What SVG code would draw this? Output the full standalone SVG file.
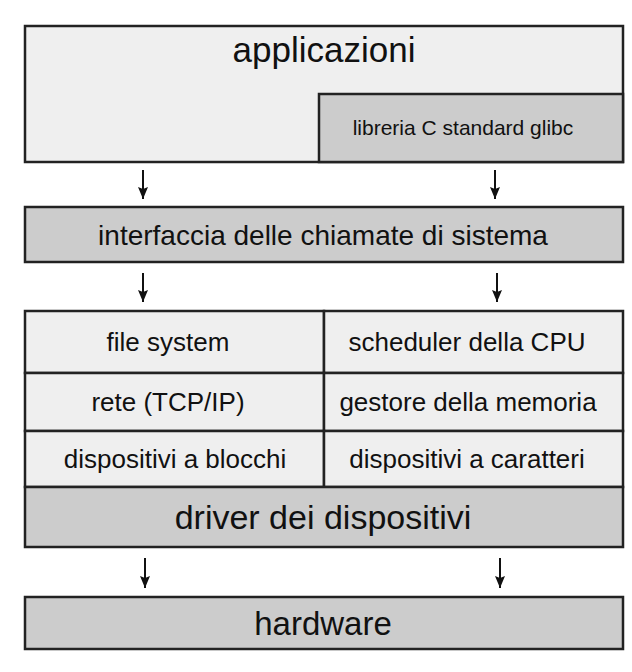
<svg xmlns="http://www.w3.org/2000/svg" width="632" height="672" viewBox="0 0 632 672">
<defs>
<style>
.light{fill:#efefef;stroke:#222;stroke-width:2.5}
.dark{fill:#cccccc;stroke:#222;stroke-width:2.5}
text{font-family:"Liberation Sans",Arial,sans-serif;fill:#111;text-anchor:middle}
.big{font-size:34px}
.app{font-size:35px}
.hw{font-size:33px}
.mid{font-size:28px}
.row{font-size:26px}
.small{font-size:21px}
.arrow{stroke:#111;stroke-width:2;fill:none}
</style>
<marker id="ah" markerWidth="12" markerHeight="10" refX="12" refY="5" orient="auto" markerUnits="userSpaceOnUse" viewBox="0 0 12 10">
<path d="M0,0 L12,5 L0,10 L2,5 Z" fill="#111"/>
</marker>
</defs>
<rect width="632" height="672" fill="#fff"/>
<g id="applicazioni">
<rect class="light" x="25" y="26" width="598" height="136"/>
<text class="app" x="324" y="62">applicazioni</text>
</g>
<g id="glibc">
<rect class="dark" x="319" y="94" width="304" height="68"/>
<text class="small" x="463" y="135">libreria C standard glibc</text>
</g>
<g id="syscall">
<rect class="dark" x="25" y="207" width="598" height="55"/>
<text class="mid" x="323" y="245">interfaccia delle chiamate di sistema</text>
</g>
<g id="kernel">
<rect class="light" x="25" y="311" width="299" height="62"/>
<rect class="light" x="324" y="311" width="299" height="62"/>
<rect class="light" x="25" y="373" width="299" height="58"/>
<rect class="light" x="324" y="373" width="299" height="58"/>
<rect class="light" x="25" y="431" width="299" height="56"/>
<rect class="light" x="324" y="431" width="299" height="56"/>
<text class="row" x="168" y="351">file system</text>
<text class="row" x="467" y="351">scheduler della CPU</text>
<text class="row" x="168" y="411">rete (TCP/IP)</text>
<text class="row" x="468" y="411">gestore della memoria</text>
<text class="row" x="175" y="468">dispositivi a blocchi</text>
<text class="row" x="467" y="468">dispositivi a caratteri</text>
</g>
<g id="driver">
<rect class="dark" x="25" y="487" width="598" height="60"/>
<text class="big" x="323" y="529">driver dei dispositivi</text>
</g>
<g id="hardware">
<rect class="dark" x="25" y="597" width="598" height="52"/>
<text class="hw" x="323" y="635">hardware</text>
</g>
<g id="connectors">
<line class="arrow" x1="143" y1="170" x2="143" y2="199" marker-end="url(#ah)"/>
<line class="arrow" x1="495" y1="170" x2="495" y2="199" marker-end="url(#ah)"/>
<line class="arrow" x1="143" y1="273" x2="143" y2="302" marker-end="url(#ah)"/>
<line class="arrow" x1="497" y1="273" x2="497" y2="302" marker-end="url(#ah)"/>
<line class="arrow" x1="145" y1="558" x2="145" y2="588" marker-end="url(#ah)"/>
<line class="arrow" x1="500" y1="558" x2="500" y2="588" marker-end="url(#ah)"/>
</g>
</svg>
